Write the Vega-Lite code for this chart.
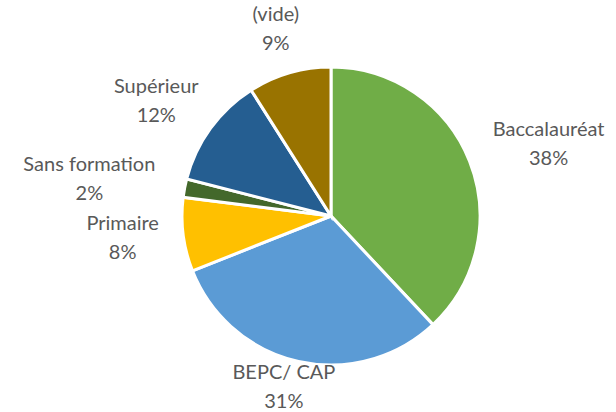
{
  "$schema": "https://vega.github.io/schema/vega-lite/v6.json",
  "width": 570,
  "height": 392,
  "autosize": "none",
  "padding": {"left": 46, "right": 0, "top": 20, "bottom": 0},
  "background": "white",
  "view": {"stroke": null},
  "data": {
    "values": [
      {"cat": "Baccalauréat", "value": 38, "idx": 1, "label": "Baccalauréat\n38%"},
      {"cat": "BEPC/ CAP", "value": 31, "idx": 2, "label": "BEPC/ CAP\n31%"},
      {"cat": "Primaire", "value": 8, "idx": 3, "label": "Primaire\n8%"},
      {"cat": "Sans formation", "value": 2, "idx": 4, "label": "Sans formation\n2%"},
      {"cat": "Supérieur", "value": 12, "idx": 5, "label": "Supérieur\n12%"},
      {"cat": "(vide)", "value": 9, "idx": 6, "label": "(vide)\n9%"}
    ]
  },
  "encoding": {
    "theta": {"field": "value", "type": "quantitative", "stack": true},
    "order": {"field": "idx", "type": "quantitative"},
    "color": {
      "field": "cat",
      "type": "nominal",
      "scale": {
        "domain": ["Baccalauréat", "BEPC/ CAP", "Primaire", "Sans formation", "Supérieur", "(vide)"],
        "range": ["#70AD47", "#5B9BD5", "#FFC000", "#43682B", "#255E91", "#997300"]
      },
      "legend": null
    }
  },
  "layer": [
    {
      "mark": {"type": "arc", "outerRadius": 149, "stroke": "white", "strokeWidth": 3}
    },
    {
      "mark": {
        "type": "text",
        "radius": 162,
        "dx": {"expr": "sin(PI*(datum.value_start+datum.value_end)/100)*6*length(datum.cat)"},
        "dy": {"expr": "-cos(PI*(datum.value_start+datum.value_end)/100)*(cos(PI*(datum.value_start+datum.value_end)/100)>0 ? 32 : 14) - 14.5"},
        "fontSize": 20,
        "font": "Lato",
        "lineBreak": "\n",
        "lineHeight": 29,
        "align": "center",
        "baseline": "middle"
      },
      "encoding": {
        "text": {"field": "label", "type": "nominal"},
        "color": {"value": "#595959"}
      }
    }
  ]
}
